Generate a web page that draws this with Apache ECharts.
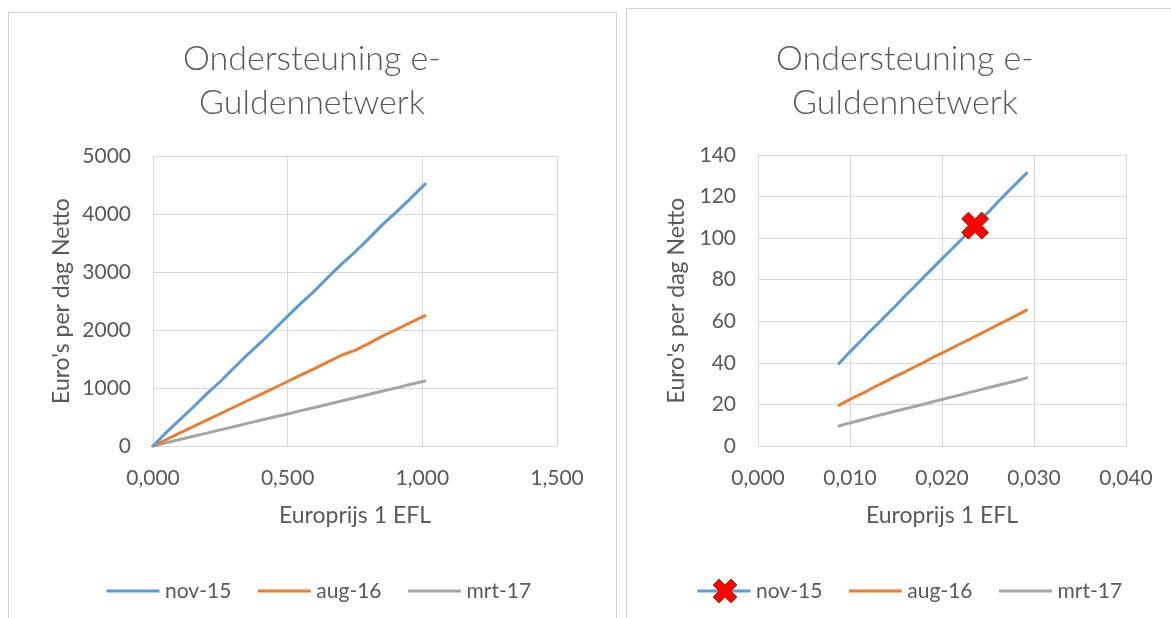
<!DOCTYPE html>
<html><head><meta charset="utf-8">
<script src="https://cdn.jsdelivr.net/npm/echarts@6/dist/echarts.min.js"></script>
<style>html,body{margin:0;padding:0;background:#fff;}#c{width:1171px;height:618px;}</style>
</head><body><div id="c"></div>
<script>
// ---- data ----
const seriesNames = ['nov-15', 'aug-16', 'mrt-17'];
const titleLines = ['Ondersteuning e-', 'Guldennetwerk'];
const xAxisTitle = 'Europrijs 1 EFL';
const yAxisTitle = "Euro's per dag Netto";

const leftX   = [0, 0.05, 0.10, 0.15, 0.20, 0.25, 0.30, 0.35, 0.40, 0.45, 0.50, 0.55, 0.60, 0.65, 0.70, 0.75, 0.80, 0.85, 0.90, 0.95, 1.01];
const leftNov = [0, 238, 455, 672, 902, 1112, 1345, 1570, 1785, 2008, 2240, 2462, 2676, 2910, 3135, 3345, 3572, 3808, 4020, 4240, 4515];
const leftAug = [0, 112, 225, 335, 448, 556, 668, 780, 890, 1000, 1112, 1225, 1335, 1450, 1565, 1650, 1765, 1890, 2000, 2115, 2246];
const leftMrt = [0, 56, 112, 167, 222, 278, 333, 390, 444, 500, 553, 610, 665, 720, 777, 832, 888, 943, 998, 1055, 1121];

const rightX   = [0.0088, 0.010, 0.011, 0.012, 0.013, 0.014, 0.015, 0.016, 0.017, 0.018, 0.019, 0.020, 0.021, 0.022, 0.023, 0.024, 0.025, 0.026, 0.027, 0.028, 0.0292];
const rightNov = [39.7, 45.3, 49.8, 54.4, 58.7, 63.2, 67.6, 72.3, 76.6, 81.2, 85.6, 90.1, 94.4, 98.9, 103.6, 108.1, 112.4, 117.0, 121.6, 126.0, 131.3];
const rightAug = [19.6, 22.4, 24.6, 26.8, 29.2, 31.3, 33.6, 35.7, 38.0, 40.1, 42.6, 44.7, 46.9, 49.2, 51.3, 53.6, 55.8, 58.2, 60.3, 62.6, 65.4];
const rightMrt = [9.6, 11.1, 12.3, 13.4, 14.6, 15.7, 16.8, 17.9, 19.0, 20.1, 21.3, 22.4, 23.5, 24.6, 25.8, 26.9, 28.0, 29.1, 30.2, 31.3, 32.8];

const markerPoint = [0.0236, 106];

const leftXTicks  = ['0,000', '0,500', '1,000', '1,500'];
const leftYTicks  = ['0', '1000', '2000', '3000', '4000', '5000'];
const rightXTicks = ['0,000', '0,010', '0,020', '0,030', '0,040'];
const rightYTicks = ['0', '20', '40', '60', '80', '100', '120', '140'];

// ---- styles ----
const colors = ['#5B9BD5', '#ED7D31', '#A5A5A5'];
const txt = '#595959';
const gridCol = '#D9D9D9';
const FONT = "Lato, 'Open Sans', sans-serif";
const xPath = 'path://M0,2.5 L2.5,0 L5,2.5 L7.5,0 L10,2.5 L7.5,5 L10,7.5 L7.5,10 L5,7.5 L2.5,10 L0,7.5 L2.5,5 Z';

function zip(xs, ys) { return xs.map((x, i) => [x, ys[i]]); }

function legendIcon(color, withX) {
  let svg = '<svg xmlns="http://www.w3.org/2000/svg" width="54" height="30" viewBox="0 0 54 30">' +
    '<rect x="0.5" y="13.5" width="53" height="3" fill="' + color + '"/>';
  if (withX) {
    svg += '<path transform="translate(16,3) scale(2.4)" d="M0,2.5 L2.5,0 L5,2.5 L7.5,0 L10,2.5 L7.5,5 L10,7.5 L7.5,10 L5,7.5 L2.5,10 L0,7.5 L2.5,5 Z" fill="#FF0000" stroke="#7A3B0C" stroke-width="0.35"/>';
  }
  svg += '</svg>';
  return 'image://data:image/svg+xml;charset=utf-8,' + encodeURIComponent(svg);
}

function xAxisCfg(gi, min, max, interval, ticks) {
  return {
    type: 'value', gridIndex: gi, min: min, max: max, interval: interval,
    name: xAxisTitle, nameLocation: 'middle', nameGap: 58,
    nameTextStyle: { color: txt, fontFamily: FONT, fontSize: 23 },
    axisLine: { show: true, lineStyle: { color: gridCol, width: 1 } },
    axisTick: { show: false },
    axisLabel: { color: txt, fontFamily: FONT, fontSize: 21, margin: 22,
      formatter: (v, i) => ticks[i] },
    splitLine: { show: true, lineStyle: { color: gridCol, width: 1 } }
  };
}
function yAxisCfg(gi, min, max, interval, ticks, gap) {
  return {
    type: 'value', gridIndex: gi, min: min, max: max, interval: interval,
    name: yAxisTitle, nameLocation: 'middle', nameGap: gap,
    nameTextStyle: { color: txt, fontFamily: FONT, fontSize: 23 },
    axisLine: { show: true, lineStyle: { color: gridCol, width: 1 } },
    axisTick: { show: false },
    axisLabel: { color: txt, fontFamily: FONT, fontSize: 21, margin: 22,
      formatter: (v, i) => ticks[i] },
    splitLine: { show: true, lineStyle: { color: gridCol, width: 1 } }
  };
}
function lineSeries(name, idx, gi, xs, ys) {
  return {
    name: name, type: 'line', xAxisIndex: gi, yAxisIndex: gi,
    data: zip(xs, ys), showSymbol: false, symbol: 'none',
    lineStyle: { color: colors[idx], width: 3, cap: 'round' },
    itemStyle: { color: colors[idx] }, z: 3 - idx
  };
}
function titleGraphic(cx) {
  return [
    { type: 'text', x: cx, y: 59, style: { text: titleLines[0], fill: txt, font: '300 34px ' + FONT, textAlign: 'center', textVerticalAlign: 'middle' } },
    { type: 'text', x: cx, y: 103, style: { text: titleLines[1], fill: txt, font: '300 34px ' + FONT, textAlign: 'center', textVerticalAlign: 'middle' } }
  ];
}

const chart = echarts.init(document.getElementById('c'), null, { renderer: 'canvas' });
chart.setOption({
  animation: false,
  backgroundColor: '#fff',
  graphic: [
    { type: 'rect', shape: { x: 8.5, y: 12.5, width: 608, height: 640 }, style: { fill: 'none', stroke: '#D4D4D4', lineWidth: 1 }, silent: true },
    { type: 'rect', shape: { x: 626.5, y: 8.5, width: 600, height: 640 }, style: { fill: 'none', stroke: '#D4D4D4', lineWidth: 1 }, silent: true }
  ].concat(titleGraphic(312), titleGraphic(905)),
  grid: [
    { left: 153, top: 156, width: 404, height: 290 },
    { left: 758, top: 155, width: 368, height: 291 }
  ],
  xAxis: [
    xAxisCfg(0, 0, 1.5, 0.5, leftXTicks),
    xAxisCfg(1, 0, 0.04, 0.01, rightXTicks)
  ],
  yAxis: [
    yAxisCfg(0, 0, 5000, 1000, leftYTicks, 80),
    yAxisCfg(1, 0, 140, 20, rightYTicks, 70)
  ],
  legend: [
    { left: 101, top: 571, itemWidth: 54, itemHeight: 30, itemGap: 26,
      textStyle: { color: txt, fontFamily: FONT, fontSize: 21 },
      selectedMode: false,
      data: seriesNames.map((n, i) => ({ name: n, icon: legendIcon(colors[i], false) })) },
    { left: 692, top: 571, itemWidth: 54, itemHeight: 30, itemGap: 26,
      textStyle: { color: txt, fontFamily: FONT, fontSize: 21 },
      selectedMode: false,
      data: seriesNames.map((n, i) => ({ name: n, icon: legendIcon(colors[i], i === 0) })) }
  ],
  series: [
    lineSeries(seriesNames[0], 0, 0, leftX, leftNov),
    lineSeries(seriesNames[1], 1, 0, leftX, leftAug),
    lineSeries(seriesNames[2], 2, 0, leftX, leftMrt),
    lineSeries(seriesNames[0], 0, 1, rightX, rightNov),
    lineSeries(seriesNames[1], 1, 1, rightX, rightAug),
    lineSeries(seriesNames[2], 2, 1, rightX, rightMrt),
    { name: 'marker', type: 'scatter', xAxisIndex: 1, yAxisIndex: 1,
      data: [markerPoint], symbol: xPath, symbolSize: 27,
      itemStyle: { color: '#FF0000', borderColor: '#7A3B0C', borderWidth: 1, opacity: 1 }, z: 10 }
  ]
});
</script></body></html>
